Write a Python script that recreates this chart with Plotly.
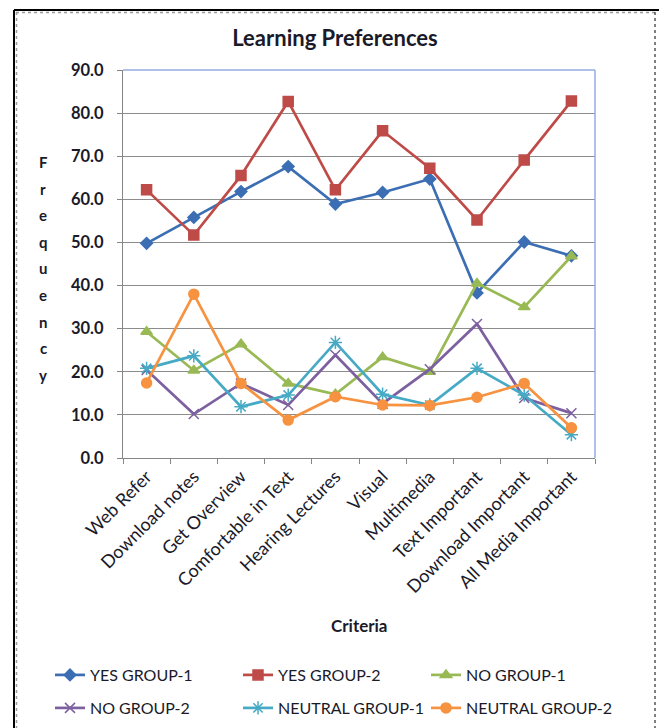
import plotly.graph_objects as go

# Criteria along the x axis
criteria = ["Web Refer", "Download notes", "Get Overview", "Comfortable in Text",
            "Hearing Lectures", "Visual", "Multimedia", "Text Important",
            "Download Important", "All Media Important"]

# Frequency values per response group
yes_group_1 = [49.8, 55.8, 61.8, 67.6, 58.9, 61.6, 64.7, 38.3, 50.1, 46.9]
yes_group_2 = [62.2, 51.7, 65.5, 82.7, 62.2, 75.9, 67.2, 55.2, 69.1, 82.8]
no_group_1 = [29.3, 20.3, 26.4, 17.3, 14.8, 23.4, 20.0, 40.5, 35.0, 46.8]
no_group_2 = [20.4, 10.2, 17.3, 12.3, 23.9, 12.6, 20.6, 31.1, 13.9, 10.4]
neutral_group_1 = [20.8, 23.7, 11.9, 14.6, 26.8, 14.8, 12.3, 20.8, 14.6, 5.4]
neutral_group_2 = [17.4, 38.0, 17.3, 8.8, 14.2, 12.3, 12.2, 14.1, 17.3, 7.0]

y_ticks = [0, 10, 20, 30, 40, 50, 60, 70, 80, 90]

# name, values, colour, marker symbol, marker size, legend row
series = [
    ("YES GROUP-1", yes_group_1, "#3C6EB4", "diamond", 9, "legend"),
    ("YES GROUP-2", yes_group_2, "#BE4B48", "square", 10, "legend"),
    ("NO GROUP-1", no_group_1, "#98B954", "triangle-up", 10, "legend"),
    ("NO GROUP-2", no_group_2, "#7D60A0", "x-thin-open", 10, "legend2"),
    ("NEUTRAL GROUP-1", neutral_group_1, "#46AAC5", "asterisk-open", 11, "legend2"),
    ("NEUTRAL GROUP-2", neutral_group_2, "#F69240", "circle", 10, "legend2"),
]

W, H = 659, 728
L, R, T, B = 123, 595, 70, 458  # plot-area pixel edges


def px(x):
    return (x - L) / (R - L)


def py(y):
    return (B - y) / (B - T)


FONT = "Lato"
TXT = "#1a1a2a"

fig = go.Figure()
for name, vals, color, sym, size, leg in series:
    fig.add_trace(go.Scatter(
        x=criteria, y=vals, name=name, mode="lines+markers", legend=leg,
        line=dict(color=color, width=2.7),
        marker=dict(symbol=sym, size=size, color=color,
                    line=dict(color=color, width=1.5)),
    ))

shapes = [
    # outer frame
    dict(type="line", xref="paper", yref="paper", x0=px(14), x1=px(659), y0=py(10), y1=py(10),
         line=dict(color="black", width=2)),
    dict(type="line", xref="paper", yref="paper", x0=px(14), x1=px(14), y0=py(10), y1=py(728),
         line=dict(color="black", width=2)),
    dict(type="line", xref="paper", yref="paper", x0=px(16), x1=px(655), y0=py(12.5), y1=py(12.5),
         line=dict(color="#9a9a9a", width=1.5, dash="dot")),
    dict(type="line", xref="paper", yref="paper", x0=px(16.5), x1=px(16.5), y0=py(12), y1=py(728),
         line=dict(color="#9a9a9a", width=1.5, dash="dot")),
    dict(type="line", xref="paper", yref="paper", x0=px(655), x1=px(655), y0=py(12), y1=py(728),
         line=dict(color="#555555", width=1.5, dash="dot")),
    # plot-area border (top and right)
    dict(type="line", xref="paper", yref="paper", x0=0, x1=1, y0=1, y1=1,
         line=dict(color="#95ADE0", width=1.5)),
    dict(type="line", xref="paper", yref="paper", x0=1, x1=1, y0=0, y1=1,
         line=dict(color="#95ADE0", width=1.5)),
]

annotations = []
# vertical stacked axis title
for i, ch in enumerate("Frequency"):
    annotations.append(dict(
        text=ch, xref="paper", yref="paper", x=px(43), y=py(162 + i * 26.6),
        xanchor="center", yanchor="middle", showarrow=False,
        font=dict(family=FONT, size=15, color=TXT, weight="bold"),
    ))
annotations.append(dict(
    text="Criteria", xref="paper", yref="paper", x=px(359), y=py(625),
    xanchor="center", yanchor="middle", showarrow=False,
    font=dict(family=FONT, size=17, color=TXT, weight="bold"),
))

legend_common = dict(
    orientation="h", xanchor="left", yanchor="middle",
    entrywidth=143, entrywidthmode="pixels",
    font=dict(family=FONT, size=16, color=TXT),
    bgcolor="rgba(0,0,0,0)",
)

fig.update_layout(
    width=W, height=H,
    margin=dict(l=L, r=W - R, t=T, b=H - B, autoexpand=False),
    paper_bgcolor="white", plot_bgcolor="white",
    title=dict(text="<b>Learning Preferences</b>", xref="container", x=335 / W,
               xanchor="center", y=1 - 38 / H, yanchor="middle",
               font=dict(family=FONT, size=22, color=TXT)),
    shapes=shapes,
    annotations=annotations,
    showlegend=True,
    legend=dict(x=px(50), y=py(675), **legend_common),
    legend2=dict(x=px(50), y=py(708), **legend_common),
    xaxis=dict(
        type="category", tickangle=-45, tickson="boundaries",
        ticks="outside", ticklen=5, tickcolor="#868686",
        showline=True, linecolor="#868686", linewidth=1.2,
        showgrid=False, range=[-0.5, 9.5],
        tickfont=dict(family=FONT, size=18, color=TXT),
    ),
    yaxis=dict(
        range=[0, 90], tickvals=y_ticks, tickformat=".1f",
        ticks="outside", ticklen=5, tickcolor="#868686",
        showline=True, linecolor="#868686", linewidth=1.2,
        showgrid=True, gridcolor="#8c8c8c", gridwidth=1,
        zeroline=False, ticklabelstandoff=10,
        tickfont=dict(family=FONT, size=16.5, color=TXT, weight="bold"),
    ),
)

fig.write_html("out.html")
